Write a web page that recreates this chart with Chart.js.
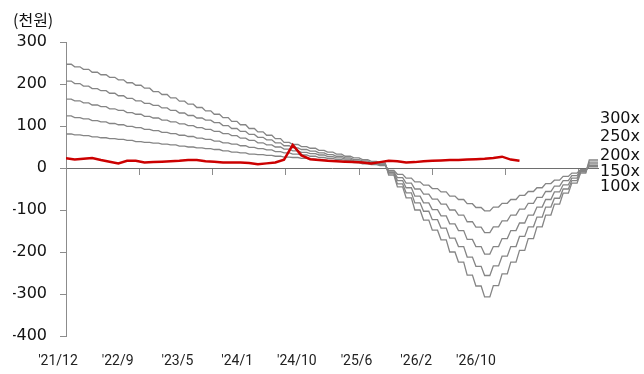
<!DOCTYPE html>
<html>
<head>
<meta charset="utf-8">
<script src="https://cdn.jsdelivr.net/npm/chart.js@4.4.1/dist/chart.umd.min.js"></script>
<style>
  html, body { margin: 0; padding: 0; background: #fff; }
  canvas { display: block; }
</style>
</head>
<body>
<canvas id="chart" width="644" height="374"></canvas>
<script>
// x labels (shown along the bottom), month index runs 0..61
const monthLabels = ["'21/12", "'22/9", "'23/5", "'24/1", "'24/10", "'25/6", "'26/2", "'26/10"];
const xTickMonths = [0, 8.4, 16.8, 25.2, 33.6, 42, 50.4, 58.8];
const yTickValues = [-400, -300, -200, -100, 0, 100, 200, 300];
const seriesNames = ['300x', '250x', '200x', '150x', '100x'];

const s300 = [
  247, 241, 235, 228, 222, 216, 210, 203, 197, 190,
  182, 175, 167, 159, 152, 144, 136, 128, 120, 111,
  103, 94, 86, 78, 70, 61, 56, 51, 47, 42,
  38, 33, 28, 24, 20, 16, 12, -17, -45, -71,
  -100, -124, -148, -171, -200, -224, -255, -281, -307, -280,
  -252, -224, -196, -168, -140, -112, -86, -60, -36, -12,
  19, 19
];
const s250 = [
  207, 201, 195, 189, 184, 178, 172, 166, 160, 154,
  149, 143, 137, 131, 125, 119, 114, 108, 101, 94,
  87, 80, 73, 67, 60, 53, 48, 44, 40, 36,
  32, 28, 24, 20, 17, 13, 10, -14, -38, -59,
  -83, -103, -123, -143, -167, -187, -212, -234, -256, -233,
  -210, -187, -163, -140, -117, -93, -72, -50, -30, -10,
  14, 14
];
const s200 = [
  164, 160, 155, 150, 146, 141, 137, 132, 128, 123,
  119, 114, 110, 105, 101, 96, 92, 87, 82, 77,
  71, 66, 60, 55, 50, 45, 41, 37, 34, 31,
  27, 24, 21, 17, 14, 12, 9, -11, -30, -47,
  -67, -83, -99, -114, -133, -149, -170, -187, -205, -187,
  -168, -149, -131, -112, -93, -75, -57, -40, -24, -8,
  10, 10
];
const s150 = [
  124, 120, 117, 113, 110, 106, 103, 99, 96, 92,
  89, 85, 82, 78, 75, 71, 68, 64, 60, 57,
  53, 49, 46, 43, 39, 36, 33, 31, 28, 25,
  23, 20, 18, 15, 12, 10, 8, -9, -23, -36,
  -50, -62, -74, -86, -100, -112, -128, -141, -154, -140,
  -126, -112, -98, -84, -70, -56, -43, -30, -18, -6,
  6, 6
];
const s100 = [
  81, 79, 77, 74, 72, 70, 68, 66, 63, 61,
  59, 57, 55, 52, 50, 48, 46, 44, 41, 38,
  36, 33, 32, 30, 28, 26, 25, 23, 21, 19,
  18, 16, 14, 13, 10, 8, 6, -6, -15, -24,
  -33, -41, -49, -57, -67, -75, -85, -94, -102, -93,
  -84, -75, -65, -56, -47, -37, -29, -20, -12, -4,
  3, 3
];
const redValues = [
  23, 20, 22, 24, 19, 15, 11, 17, 17, 13,
  14, 15, 16, 17, 19, 19, 16, 15, 13, 13,
  13, 12, 9, 11, 13, 20, 55, 30, 21, 19,
  17, 16, 15, 14, 13, 11, 14, 17, 16, 13,
  14, 16, 17, 18, 19, 19, 20, 21, 22, 24,
  27, 20, 17
];

const grayValues = [s300, s250, s200, s150, s100];
// where the series names sit on the right, in y units
const endLabelY = [117, 73, 30, -10, -45];

const HOLD = 0.6;
function stepPoints(vals) {
  const pts = [];
  vals.forEach((v, i) => {
    pts.push({ x: i, y: v });
    if (i < vals.length - 1) pts.push({ x: i + HOLD, y: v });
  });
  return pts;
}

const labelFont = { family: 'DejaVu Sans', size: 16 };
const axisGray = '#8c8c8c';

const endLabels = {
  id: 'endLabels',
  afterDraw(chart) {
    const { ctx, chartArea } = chart;
    const y = chart.scales.y;
    ctx.save();
    ctx.font = `${labelFont.size}px "${labelFont.family}"`;
    ctx.fillStyle = '#111';
    ctx.textAlign = 'left';
    ctx.textBaseline = 'middle';
    seriesNames.forEach((name, k) => {
      ctx.fillText(name, chartArea.right + 2, y.getPixelForValue(endLabelY[k]));
    });
    ctx.restore();
  }
};

const datasets = [
  {
    label: '가격',
    data: redValues.map((v, i) => ({ x: i, y: v })),
    borderColor: '#cc0000',
    borderWidth: 2.5,
    order: 0
  },
  ...seriesNames.map((name, k) => ({
    label: name,
    data: stepPoints(grayValues[k]),
    borderColor: '#858585',
    borderWidth: 1.3,
    order: 1
  }))
];

new Chart(document.getElementById('chart'), {
  type: 'line',
  data: { datasets },
  plugins: [endLabels],
  options: {
    responsive: false,
    animation: false,
    devicePixelRatio: 1,
    layout: { padding: { left: 13, right: 46, top: 9, bottom: 8 } },
    elements: { point: { radius: 0 }, line: { tension: 0 } },
    plugins: {
      legend: { display: false },
      tooltip: { enabled: false },
      title: {
        display: true,
        text: '(천원)',
        align: 'start',
        color: '#111',
        font: { family: 'Noto Sans CJK KR', size: 16, weight: 'normal' },
        padding: { top: 1, bottom: 12.8 }
      }
    },
    scales: {
      x: {
        type: 'linear',
        min: 0,
        max: 61,
        position: { y: 0 },
        afterBuildTicks: (s) => { s.ticks = xTickMonths.map((v) => ({ value: v })); },
        afterFit: (s) => { s.height = 0; },
        ticks: { display: false },
        grid: { display: true, drawOnChartArea: false, drawTicks: true, tickLength: 6, color: axisGray },
        border: { display: true, color: '#6e6e6e', width: 1 }
      },
      x2: {
        type: 'linear',
        position: 'bottom',
        min: 0.134,
        max: 9.044,
        afterBuildTicks: (s) => { s.ticks = monthLabels.map((_, i) => ({ value: i })); },
        afterFit: (s) => { s.height = 30; },
        ticks: {
          autoSkip: false,
          maxRotation: 0,
          padding: 17,
          color: '#222',
          font: { family: 'Roboto', size: 14 },
          callback: (v, i) => monthLabels[i]
        },
        grid: { display: false, drawTicks: false },
        border: { display: false }
      },
      y: {
        min: -400,
        max: 300,
        afterBuildTicks: (s) => { s.ticks = yTickValues.map((v) => ({ value: v })); },
        afterFit: (s) => { s.width = 53; },
        ticks: { padding: 13, color: '#111', font: labelFont },
        grid: { display: true, drawOnChartArea: false, drawTicks: true, tickLength: 6, color: axisGray },
        border: { display: true, color: axisGray, width: 1 }
      }
    }
  }
});
</script>
</body>
</html>
